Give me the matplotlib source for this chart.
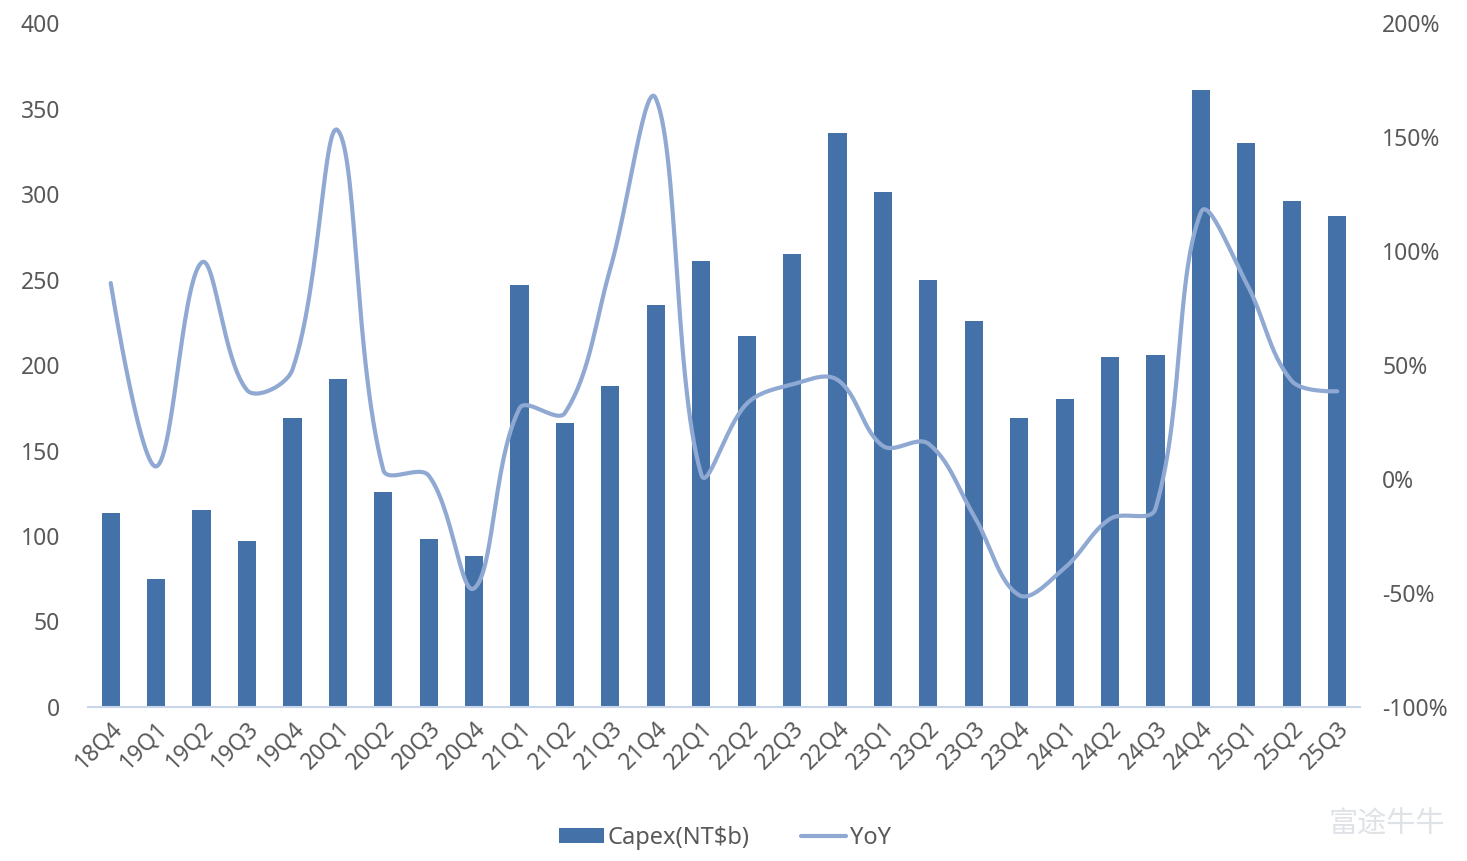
import numpy as np
import matplotlib.pyplot as plt
from matplotlib.ticker import FuncFormatter
from matplotlib.lines import Line2D
from matplotlib.patches import Patch

# 季度标签
quarters = ['18Q4', '19Q1', '19Q2', '19Q3', '19Q4', '20Q1', '20Q2', '20Q3', '20Q4',
            '21Q1', '21Q2', '21Q3', '21Q4', '22Q1', '22Q2', '22Q3', '22Q4',
            '23Q1', '23Q2', '23Q3', '23Q4', '24Q1', '24Q2', '24Q3', '24Q4',
            '25Q1', '25Q2', '25Q3']

# Capex (NT$b)
capex = [113.5, 75, 115, 97, 169, 192, 125.5, 98, 88,
         247, 166, 188, 235, 261, 217, 265, 336,
         301, 250, 226, 169, 180, 205, 206, 361,
         330, 296, 287]

# YoY (%)
yoy = [86, 5.5, 95, 39, 48, 153, 4, 1.5, -48,
       31, 29, 92.5, 167, 2, 33, 41.5, 43.5,
       14.5, 15.5, -16, -51, -39, -17.5, -13, 117,
       86, 43, 38.5]

BAR = '#4472a8'
LINE = '#8fa9d3'
TXT = '#595959'
FONT = ['Noto Sans', 'DejaVu Sans']


def smooth(x, y, sx=45.4, sy=2.28, k=0.36, n=30):
    # 类似 Excel 平滑线：按弦长加权的贝塞尔曲线（在像素空间计算）
    p = np.column_stack([np.asarray(x, float) * sx, np.asarray(y, float) * sy])
    N = len(p)
    c_out = p.copy()
    c_in = p.copy()
    for i in range(1, N - 1):
        T = p[i + 1] - p[i - 1]
        d0 = np.hypot(*(p[i] - p[i - 1]))
        d1 = np.hypot(*(p[i + 1] - p[i]))
        c_out[i] = p[i] + T * k * d1 / (d0 + d1)
        c_in[i] = p[i] - T * k * d0 / (d0 + d1)
    t = np.linspace(0, 1, n, endpoint=False)[:, None]
    pts = []
    for i in range(N - 1):
        a, b, c, d = p[i], c_out[i], c_in[i + 1], p[i + 1]
        pts.append((1 - t) ** 3 * a + 3 * (1 - t) ** 2 * t * b
                   + 3 * (1 - t) * t ** 2 * c + t ** 3 * d)
    pts.append(p[-1:])
    pts = np.vstack(pts)
    return pts[:, 0] / sx, pts[:, 1] / sy


fig = plt.figure(figsize=(14.67, 8.61), dpi=100)
ax = fig.add_axes([0.06, 0.179, 0.867, 0.794])
ax2 = ax.twinx()

x = np.arange(len(quarters))
ax.bar(x, capex, width=0.4, color=BAR, zorder=2)
ax.set_xlim(-0.5, len(quarters) - 0.5)
ax.set_ylim(0, 400)
ax.set_yticks(range(0, 401, 50))

lx, ly = smooth(x, yoy)
ax2.plot(lx, ly, color=LINE, lw=3, solid_capstyle='round', zorder=3)
ax2.set_ylim(-100, 200)
ax2.set_yticks(range(-100, 201, 50))
ax2.yaxis.set_major_formatter(FuncFormatter(lambda v, p: f'{v:.0f}%'))

for a in (ax, ax2):
    for s in a.spines.values():
        s.set_visible(False)
    a.tick_params(length=0, colors=TXT, labelsize=16.5)
    for lab in a.get_yticklabels():
        lab.set_family(FONT)

ax.spines['bottom'].set_visible(True)
ax.spines['bottom'].set_color('#c9d6ea')
ax.spines['bottom'].set_linewidth(1.5)
ax.tick_params(axis='y', pad=20)
ax2.tick_params(axis='y', pad=16)

ax.set_xticks(x)
ax.set_xticklabels(quarters, rotation=45, ha='right', rotation_mode='anchor',
                   family=FONT, fontsize=16.5, color=TXT)
ax.tick_params(axis='x', pad=7)

handles = [Patch(facecolor=BAR, edgecolor='none'),
           Line2D([0], [0], color=LINE, lw=3, solid_capstyle='round')]
leg = fig.legend(handles, ['Capex(NT$b)', 'YoY'], loc='center', ncol=2,
                 bbox_to_anchor=(0.494, 0.027), frameon=False,
                 prop={'family': FONT, 'size': 17}, handlelength=1.9,
                 handleheight=0.55, handletextpad=0.15, columnspacing=2.2)
for t in leg.get_texts():
    t.set_color(TXT)

# 水印
fig.text(0.985, 0.042, '富途牛牛', ha='right', va='center', fontsize=21,
         color='#dfe2e6', family=['Noto Sans CJK SC', 'DejaVu Sans'])

fig.savefig('out.png', dpi=100)
